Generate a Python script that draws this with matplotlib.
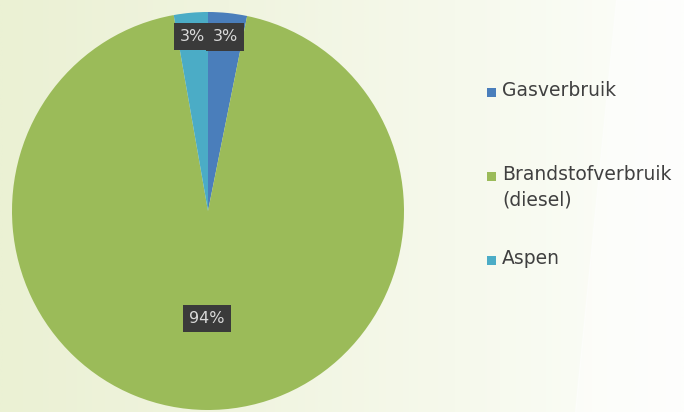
import numpy as np
import matplotlib.pyplot as plt
from matplotlib.colors import LinearSegmentedColormap
from matplotlib.patches import Rectangle

# data
categories = ['Gasverbruik', 'Brandstofverbruik\n(diesel)', 'Aspen']
shares = [3.2, 94.0, 2.8]
colors = ['#4a7ebb', '#9bbb59', '#4bacc6']

W, H = 684, 412
fig = plt.figure(figsize=(W / 100, H / 100), dpi=100)

# pale green background, fading to white on the right
bg = fig.add_axes([0, 0, 1, 1], zorder=-10)
cmap = LinearSegmentedColormap.from_list('bg', ['#ebf1d4', '#f0f4df', '#f6f9ec', '#fdfefb'])
grad = np.tile(np.linspace(0, 1, 300), (50, 1))
bg.imshow(grad, cmap=cmap, aspect='auto', extent=[0, 1, 0, 1])
bg.fill([0.9, 1, 1, 0.84], [1, 1, 0.0, 0.0], color='white', alpha=0.45)
bg.set_xlim(0, 1)
bg.set_ylim(0, 1)
bg.axis('off')

# pie axes (slightly elliptical like the original)
cx, cy, rx, ry = 208, 211, 196, 199
ax = fig.add_axes([(cx - rx) / W, (H - cy - ry) / H, 2 * rx / W, 2 * ry / H])
wedges, texts, autotexts = ax.pie(
    shares, colors=colors, startangle=90, counterclock=False,
    autopct=lambda p: '%d%%' % round(p), pctdistance=0.88,
    wedgeprops=dict(linewidth=0),
    textprops=dict(color='#d9d9d9', fontsize=11.5),
)
ax.set_aspect('auto')
ax.set_xlim(-1, 1)
ax.set_ylim(-1, 1)

# reposition the percentage labels: small slices near the rim, big one inside
for w, t in zip(wedges, autotexts):
    mid = np.deg2rad((w.theta1 + w.theta2) / 2)
    r = 0.88 if (w.theta2 - w.theta1) < 30 else 0.54
    t.set_position((r * np.cos(mid), r * np.sin(mid)))
    t.set_bbox(dict(boxstyle='square,pad=0.4', facecolor='#3a3a3a', edgecolor='none'))

# legend drawn by hand to match the layout
ys = [92, 176, 260]
for w, lab, y in zip(wedges, categories, ys):
    fig.patches.append(Rectangle((487 / W, (H - y - 4.5) / H), 9 / W, 9 / H,
                                 transform=fig.transFigure, facecolor=w.get_facecolor(),
                                 edgecolor='none'))
    fig.text(502 / W, (H - y + 11) / H, lab, fontsize=13.5, color='#404040',
             va='top', ha='left', linespacing=1.45)

fig.savefig('out.png', dpi=100)
